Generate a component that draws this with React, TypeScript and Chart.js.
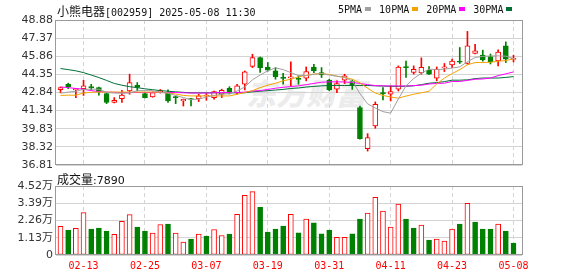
import React, { useEffect, useRef } from 'react';
import { Chart, registerables } from 'chart.js';

Chart.register(...registerables);

const dates = ['02-10','02-11','02-12','02-13','02-14','02-17','02-18','02-19','02-20','02-21','02-24','02-25','02-26','02-27','02-28','03-03','03-04','03-05','03-06','03-07','03-10','03-11','03-12','03-13','03-14','03-17','03-18','03-19','03-20','03-21','03-24','03-25','03-26','03-27','03-28','03-31','04-01','04-02','04-03','04-07','04-08','04-09','04-10','04-11','04-14','04-15','04-16','04-17','04-18','04-21','04-22','04-23','04-24','04-25','04-28','04-29','04-30','05-06','05-07','05-08'];

const xTickIndex = [3, 11, 19, 27, 35, 43, 51, 59];

const opens = [43.09,43.53,43.06,43.17,43.34,43.25,42.76,42.01,42.34,42.97,43.45,42.76,42.47,42.90,42.85,42.45,42.14,42.30,42.34,42.55,42.42,42.70,43.20,42.84,43.53,45.01,45.76,44.97,44.64,44.05,44.06,43.97,44.03,44.97,44.51,43.87,43.12,43.87,43.76,41.59,38.17,40.06,42.78,42.70,43.12,44.94,44.51,44.48,44.72,44.03,44.90,45.14,45.42,45.26,46.09,45.95,45.84,45.47,46.72,45.60];
const highs = [43.30,43.62,43.20,43.86,43.53,43.30,42.80,42.42,43.03,44.37,43.67,42.86,42.90,43.10,43.06,42.56,42.30,42.36,42.70,42.76,42.97,43.12,43.33,43.53,44.64,46.03,45.80,45.34,44.92,44.45,45.40,44.23,44.97,45.20,44.92,43.95,43.81,44.37,43.90,41.72,39.42,42.06,43.26,43.39,45.06,45.47,45.06,45.73,45.00,44.97,45.26,45.62,46.59,47.93,46.85,46.37,46.05,46.39,47.06,45.95];
const lows = [42.84,43.17,42.42,42.60,43.06,42.62,41.92,41.98,42.01,42.70,42.97,42.40,42.45,42.80,42.01,41.92,41.72,41.72,42.09,42.20,42.28,42.42,42.72,42.70,43.06,44.92,44.51,44.62,43.95,43.53,43.39,43.53,43.81,44.50,44.09,43.00,42.84,43.59,43.10,38.95,37.97,39.87,42.22,42.14,42.97,44.09,44.37,44.37,44.33,43.81,44.59,44.92,45.26,45.20,46.05,45.45,45.22,45.06,45.34,45.39];
const closes = [43.26,43.31,43.17,43.39,43.22,42.92,42.01,42.20,42.64,43.67,43.26,42.42,42.84,43.00,42.14,42.42,42.28,42.26,42.56,42.57,42.92,43.03,42.78,43.39,44.56,45.76,44.92,44.70,44.17,44.02,44.10,43.94,44.59,44.64,44.31,43.06,43.59,44.23,43.45,39.01,39.09,41.87,42.75,42.92,44.97,44.92,44.78,44.95,44.37,44.78,44.94,45.47,45.38,46.72,46.31,45.56,45.39,46.22,45.62,45.64];

const ma5 = [42.78,42.88,42.95,43.10,43.12,43.12,42.85,42.80,42.78,42.80,43.00,43.00,43.00,42.85,42.80,42.60,42.42,42.25,42.30,42.45,42.60,42.70,42.75,42.97,43.30,43.90,44.30,44.65,44.90,44.75,44.50,44.25,44.25,44.35,44.42,44.30,44.20,44.10,43.80,42.75,41.90,41.55,41.25,41.13,42.30,43.40,44.00,44.45,44.78,44.76,44.78,44.88,44.98,45.40,45.76,45.85,45.89,45.89,45.87,45.67];
const ma10 = [42.60,42.62,42.62,42.80,42.86,42.88,42.88,42.88,42.88,42.88,42.88,42.88,42.88,42.86,42.80,42.72,42.60,42.56,42.56,42.56,42.56,42.56,42.56,42.70,42.84,43.00,43.25,43.45,43.62,43.82,43.95,44.15,44.28,44.38,44.42,44.35,44.20,44.10,43.95,43.65,43.20,42.80,42.60,42.47,42.37,42.55,42.70,42.82,42.95,43.55,44.05,44.42,44.75,45.15,45.34,45.34,45.36,45.45,45.50,45.65];
const ma20 = [43.31,43.25,43.18,43.12,43.00,42.92,42.88,42.86,42.84,42.84,42.84,42.84,42.84,42.84,42.84,42.84,42.82,42.80,42.80,42.80,42.82,42.84,42.84,42.84,42.88,42.97,43.00,43.10,43.20,43.28,43.34,43.40,43.50,43.60,43.70,43.73,43.73,43.72,43.68,43.60,43.50,43.42,43.40,43.39,43.39,43.39,43.42,43.45,43.55,43.60,43.62,43.76,43.76,43.85,43.95,43.97,44.05,44.25,44.40,44.56];
const ma30 = [44.84,44.75,44.65,44.50,44.30,44.09,43.85,43.60,43.45,43.33,43.25,43.15,43.08,43.00,42.95,42.90,42.86,42.82,42.82,42.82,42.82,42.82,42.82,42.82,42.82,42.90,42.95,43.00,43.05,43.10,43.18,43.22,43.30,43.35,43.40,43.43,43.43,43.43,43.43,43.43,43.43,43.40,43.38,43.36,43.36,43.36,43.40,43.50,43.62,43.67,43.75,43.87,43.87,43.90,44.00,44.05,44.05,44.05,44.10,44.17];

const volumes = [18700,16300,17400,27800,17000,17600,15700,13500,22000,26500,18300,15700,14300,20000,20200,14300,8500,10400,13700,12400,16700,12800,13700,26700,39100,41500,31300,15000,17000,18900,26700,14600,23500,21100,13900,16300,11500,11500,13900,23500,27400,37800,28700,18300,33300,23500,17600,19600,9800,10400,9100,17000,20200,33900,21500,17000,17000,20200,15700,7890];
const volUp = [1,0,1,1,0,0,0,1,1,1,0,0,1,1,0,1,1,0,1,0,1,1,0,1,1,1,0,0,0,0,1,0,1,0,0,0,1,1,0,0,1,1,1,1,1,0,0,1,0,1,1,1,0,1,0,0,0,1,0,0];

const priceTicks = [36.81, 38.32, 39.83, 41.34, 42.84, 44.35, 45.86, 47.37, 48.88];
const volTicks = [0, 11300, 22600, 33900, 45200];
const volTickLabels = ['0', '1.13万', '2.26万', '3.39万', '4.52万'];

const RED = '#ff0000';
const GREEN = '#008000';
const GRID = '#d4d4d4';
const FRAME = '#9a9a9a';
const LABEL = '#333333';

const maSeries = [
  { label: '5PMA', values: ma5, color: '#a0a0a0' },
  { label: '10PMA', values: ma10, color: '#f5a300' },
  { label: '20PMA', values: ma20, color: '#ff00ff' },
  { label: '30PMA', values: ma30, color: '#006f35' },
];

const X_MIN = -0.586;
const X_MAX = 60.107;

const framePlugin = {
  id: 'frame',
  afterDatasetsDraw(chart: any) {
    const { ctx, chartArea: a } = chart;
    ctx.save();
    ctx.strokeStyle = FRAME;
    ctx.lineWidth = 1;
    ctx.strokeRect(Math.round(a.left) - 0.5, Math.round(a.top) + 0.5, Math.round(a.right) - Math.round(a.left) + 1, Math.round(a.bottom) - Math.round(a.top) - 1);
    ctx.restore();
  },
};

const zeroPad = (s: any) => {
  s.paddingTop = 0; s.paddingBottom = 0; s.paddingLeft = 0; s.paddingRight = 0;
};

export default function App() {
  const mainRef = useRef<HTMLCanvasElement>(null);
  const volRef = useRef<HTMLCanvasElement>(null);

  useEffect(() => {
    const candleUp = closes.map((c, i) => c >= opens[i]);
    const xScaleBase = (withLabels: boolean, h: number) => ({
      type: 'linear',
      min: X_MIN,
      max: X_MAX,
      offset: false,
      afterBuildTicks: (s: any) => { s.ticks = xTickIndex.map((v) => ({ value: v })); },
      afterFit: (s: any) => { s.height = h; zeroPad(s); },
      ticks: {
        display: withLabels,
        autoSkip: false,
        maxRotation: 0,
        padding: 5,
        color: RED,
        font: { family: "'DejaVu Sans Mono', monospace", size: 10 },
        callback: (v: any) => dates[Number(v)],
      },
      grid: { color: GRID, drawTicks: false, offset: false },
      border: { display: false, dash: [4, 3] },
    });

    const main = new Chart(mainRef.current as HTMLCanvasElement, {
      type: 'bar',
      data: {
        datasets: [
          ...maSeries.map((s) => ({
            type: 'line' as const,
            label: s.label,
            data: s.values.map((v, i) => ({ x: i, y: v })),
            borderColor: s.color,
            borderWidth: 1,
            pointRadius: 0,
            tension: 0,
            fill: false,
            order: 0,
          })),
          {
            type: 'bar' as const,
            label: 'body',
            data: opens.map((o, i) => ({ x: i, y: [o, closes[i]] })),
            backgroundColor: candleUp.map((u) => (u ? '#ffffff' : GREEN)),
            borderColor: candleUp.map((u) => (u ? RED : GREEN)),
            borderWidth: 1,
            borderSkipped: false,
            barThickness: 5,
            grouped: false,
            minBarLength: 1,
            order: 1,
          },
          {
            type: 'bar' as const,
            label: 'wick',
            data: lows.map((l, i) => ({ x: i, y: [l, highs[i]] })),
            backgroundColor: candleUp.map((u) => (u ? RED : GREEN)),
            borderWidth: 0,
            barThickness: 1,
            grouped: false,
            order: 2,
          },
        ] as any,
      },
      options: {
        responsive: false,
        animation: false,
        events: [],
        layout: { padding: { left: 0, right: 56, top: 20, bottom: 5 } },
        plugins: { legend: { display: false }, tooltip: { enabled: false } },
        scales: {
          x: xScaleBase(false, 0) as any,
          y: {
            type: 'linear',
            min: 36.81,
            max: 48.88,
            afterBuildTicks: (s: any) => { s.ticks = priceTicks.map((v) => ({ value: v })); },
            afterFit: (s: any) => { s.width = 56; zeroPad(s); },
            ticks: {
              autoSkip: false,
              padding: 3,
              color: LABEL,
              font: { family: "'DejaVu Sans', sans-serif", size: 11 },
              callback: (v: any) => Number(v).toFixed(2),
            },
            grid: { color: GRID, drawTicks: false },
            border: { display: false },
          },
        },
      },
      plugins: [framePlugin],
    });

    const vol = new Chart(volRef.current as HTMLCanvasElement, {
      type: 'bar',
      data: {
        datasets: [
          {
            label: 'volume',
            data: volumes.map((v, i) => ({ x: i, y: v })),
            backgroundColor: volUp.map((u) => (u ? '#ffffff' : GREEN)),
            borderColor: volUp.map((u) => (u ? RED : GREEN)),
            borderWidth: 1,
            borderSkipped: false,
            barThickness: 5,
            grouped: false,
          },
        ] as any,
      },
      options: {
        responsive: false,
        animation: false,
        events: [],
        layout: { padding: { left: 0, right: 56, top: 16, bottom: 0 } },
        plugins: { legend: { display: false }, tooltip: { enabled: false } },
        scales: {
          x: xScaleBase(true, 21) as any,
          y: {
            type: 'linear',
            min: 0,
            max: 45200,
            afterBuildTicks: (s: any) => { s.ticks = volTicks.map((v) => ({ value: v })); },
            afterFit: (s: any) => { s.width = 56; zeroPad(s); },
            ticks: {
              autoSkip: false,
              padding: 3,
              color: LABEL,
              font: { family: "'DejaVu Sans', 'Noto Sans CJK SC', sans-serif", size: 11 },
              callback: (_v: any, idx: number) => volTickLabels[idx],
            },
            grid: { color: GRID, drawTicks: false },
            border: { display: false },
          },
        },
      },
      plugins: [framePlugin],
    });

    return () => {
      main.destroy();
      vol.destroy();
    };
  }, []);

  const mono = "'DejaVu Sans Mono', monospace";
  const cjk = "'Noto Sans CJK SC', sans-serif";

  return (
    <div style={{ position: 'absolute', left: 0, top: 0, width: 578, height: 276, background: '#ffffff', overflow: 'hidden' }}>
      <div style={{ position: 'absolute', left: 246, top: 74, fontFamily: cjk, fontSize: 30, fontWeight: 900, fontStyle: 'italic', color: '#ececec', lineHeight: '36px', letterSpacing: 0 }}>
        东方财富
      </div>
      <canvas ref={mainRef} width={578} height={170} style={{ position: 'absolute', left: 0, top: 0 }} />
      <canvas ref={volRef} width={578} height={106} style={{ position: 'absolute', left: 0, top: 170 }} />
      <div style={{ position: 'absolute', left: 57, top: 2, height: 14, display: 'flex', alignItems: 'baseline', color: '#111', whiteSpace: 'nowrap' }}>
        <span style={{ fontFamily: cjk, fontSize: 12 }}>小熊电器</span>
        <span style={{ fontFamily: mono, fontSize: 10 }}>[002959] 2025-05-08 11:30</span>
      </div>
      <div style={{ position: 'absolute', left: 338, top: 2, display: 'flex', alignItems: 'center', height: 14, fontFamily: mono, fontSize: 10, color: '#111', whiteSpace: 'nowrap' }}>
        {maSeries.map((s) => (
          <React.Fragment key={s.label}>
            <span>{s.label}</span>
            <span style={{ display: 'inline-block', width: 6, height: 4, background: s.color, marginLeft: 3, marginRight: 8 }} />
          </React.Fragment>
        ))}
      </div>
      <div style={{ position: 'absolute', left: 57, top: 170, display: 'flex', alignItems: 'baseline', color: '#111', whiteSpace: 'nowrap', height: 14 }}>
        <span style={{ fontFamily: cjk, fontSize: 12 }}>成交量</span>
        <span style={{ fontFamily: "'DejaVu Sans', sans-serif", fontSize: 11 }}>:{volumes[volumes.length - 1]}</span>
      </div>
    </div>
  );
}
